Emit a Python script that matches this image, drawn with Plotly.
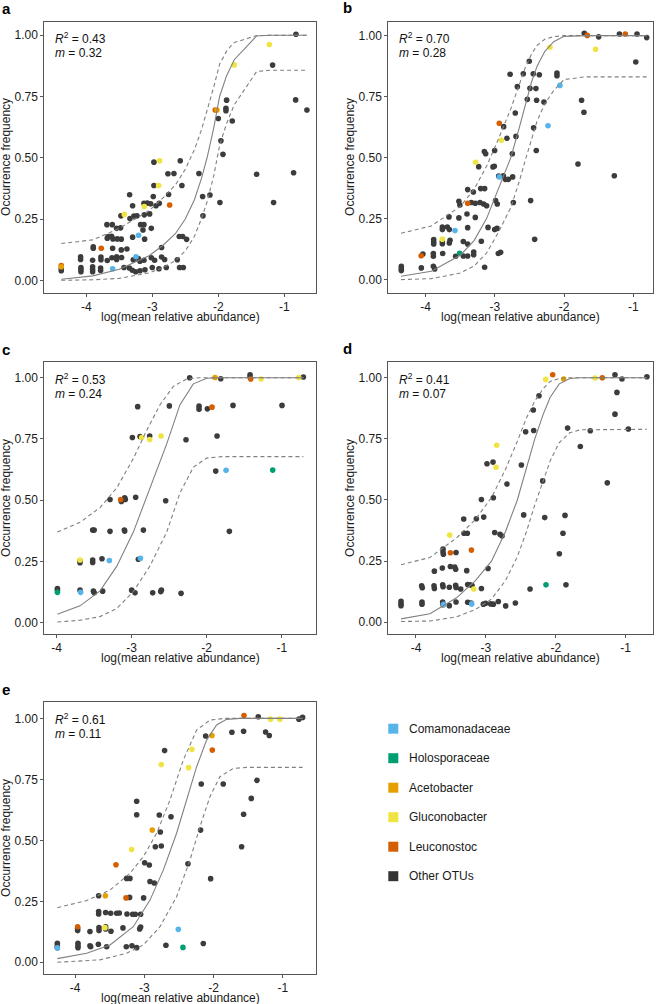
import plotly.graph_objects as go

FIG_W, FIG_H = 660, 1004
FONT = "Liberation Sans, Arial, Helvetica, sans-serif"

GROUP_NAMES = ["Comamonadaceae", "Holosporaceae", "Acetobacter", "Gluconobacter", "Leuconostoc", "Other OTUs"]
GROUP_COLORS = ["#56B4E9", "#009E73", "#E69F00", "#F0E442", "#D55E00", "#333333"]
POINT_OTHER_COLOR = "#3c3c3c"

X_TICKS = [-4, -3, -2, -1]
X_TICK_TEXT = ["-4", "-3", "-2", "-1"]
Y_TICKS = [0, 0.25, 0.5, 0.75, 1.0]
Y_TICK_TEXT = ["0.00", "0.25", "0.50", "0.75", "1.00"]

PANEL_KEYS = ["a", "b", "c", "d", "e"]
R2_VALUES = ["0.43", "0.70", "0.53", "0.41", "0.61"]
M_VALUES = ["0.32", "0.28", "0.24", "0.07", "0.11"]
X_TITLE = "log(mean relative abundance)"
Y_TITLE = "Occurrence frequency"

# ---------------- panel a ----------------
A_OTHER_X = [-2.975, -2.576, -2.763, -2.672, -2.293, -2.975, -2.551, -3.343, -2.985, -2.753,
             -3.126, -3.076, -3.025, -2.944, -2.894, -3.298, -3.475, -3.338, -3.278, -3.232,
             -3.121, -3.040, -3.687, -3.606, -3.540, -3.480, -3.177, -3.126, -3.141, -3.015,
             -3.667, -3.682, -3.616, -3.596, -3.530, -3.470, -3.298, -3.116, -2.859, -2.591,
             -2.540, -2.480, -3.894, -3.894, -3.601, -3.470, -3.384, -4.086, -4.086, -3.904,
             -3.778, -3.778, -3.682, -3.611, -3.540, -3.540, -3.465, -3.288, -3.212, -3.187,
             -3.126, -3.015, -2.965, -2.859, -2.813, -2.621, -4.379, -4.379, -4.081, -4.081,
             -4.081, -3.904, -3.904, -3.904, -3.783, -3.783, -3.429, -3.348, -3.303, -3.252,
             -3.187, -3.111, -3.000, -2.899, -2.788, -2.586, -2.530,
             -0.823, -1.177, -0.828, -0.657, -1.874, -1.884, -1.884, -2.000, -1.788, -1.960,
             -1.929, -2.126, -2.237, -1.975, -2.232, -1.419, -0.859, -1.162]
A_OTHER_Y = [0.482, 0.488, 0.435, 0.436, 0.436, 0.387, 0.387, 0.349, 0.342, 0.350,
             0.314, 0.315, 0.312, 0.304, 0.314, 0.304, 0.263, 0.252, 0.262, 0.263,
             0.267, 0.271, 0.227, 0.227, 0.212, 0.214, 0.227, 0.227, 0.205, 0.212,
             0.179, 0.172, 0.180, 0.169, 0.169, 0.168, 0.176, 0.168, 0.134, 0.179,
             0.179, 0.167, 0.137, 0.131, 0.131, 0.124, 0.128, 0.096, 0.085, 0.082,
             0.095, 0.084, 0.081, 0.092, 0.096, 0.085, 0.093, 0.084, 0.089, 0.078,
             0.082, 0.092, 0.082, 0.095, 0.085, 0.084, 0.047, 0.039, 0.052, 0.044,
             0.035, 0.055, 0.044, 0.035, 0.050, 0.040, 0.052, 0.050, 0.041, 0.035,
             0.039, 0.043, 0.052, 0.047, 0.052, 0.052, 0.052,
             1.004, 0.878, 0.736, 0.695, 0.735, 0.702, 0.692, 0.660, 0.650, 0.569,
             0.514, 0.348, 0.342, 0.317, 0.263, 0.433, 0.439, 0.317]
A_COMA_X = [-3.207, -3.247, -3.601]
A_COMA_Y = [0.184, 0.096, 0.047]
A_HOLO_X = []
A_HOLO_Y = []
A_ACETO_X = [-4.379, -2.020]
A_ACETO_Y = [0.055, 0.695]
A_GLUCO_X = [-2.889, -2.904, -3.121, -3.424, -1.227, -1.758]
A_GLUCO_Y = [0.488, 0.387, 0.301, 0.269, 0.962, 0.879]
A_LEUCO_X = [-2.737, -3.773, -4.379, -2.045]
A_LEUCO_Y = [0.307, 0.131, 0.060, 0.695]

A_FIT_X = [-4.379, -3.90, -3.50, -3.25, -3.05, -2.85, -2.65, -2.50, -2.36, -2.25, -2.17, -2.07, -1.98, -1.874, -1.788, -1.758, -1.419, -1.227, -0.657]
A_FIT_Y = [0.004, 0.018, 0.045, 0.075, 0.10, 0.14, 0.19, 0.25, 0.33, 0.42, 0.50, 0.62, 0.75, 0.835, 0.885, 0.90, 0.997, 1.0, 1.0]
A_HI_X = A_FIT_X
A_HI_Y = [0.150, 0.165, 0.212, 0.252, 0.284, 0.333, 0.389, 0.453, 0.534, 0.618, 0.689, 0.787, 0.882, 0.935, 0.963, 0.970, 0.999, 1.0, 1.0]
A_LO_X = A_FIT_X
A_LO_Y = [0.0, 0.002, 0.008, 0.019, 0.030, 0.05, 0.08, 0.12, 0.18, 0.255, 0.32, 0.425, 0.55, 0.64, 0.70, 0.716, 0.852, 0.857, 0.857]

# ---------------- panel b ----------------
B_OTHER_X = [-4.352, -4.352, -4.352, -4.063, -3.889, -3.870, -3.148, -4.040, -3.889, -3.889,
             -3.754, -3.567, -3.456, -3.393, -3.306, -3.306, -2.950, -2.917, -3.884, -3.884,
             -3.884, -3.759, -3.759, -3.648, -3.658, -3.456, -3.393, -3.196, -3.759, -3.759,
             -3.687, -3.658, -3.393, -3.099, -3.003, -2.969, -3.663, -3.520, -3.403, -3.283,
             -3.520, -3.506, -3.340, -3.283, -3.215, -3.162, -3.119, -3.393, -3.311, -3.205,
             -3.148, -2.990, -2.965, -2.733, -2.425, -2.945, -2.878, -2.849, -2.806, -2.743,
             -3.234, -3.027, -3.008, -3.152, -3.133, -3.003, -2.825, -2.748, -2.695, -2.873,
             -2.705, -2.440, -2.402, -2.531, -2.397, -2.291,
             -1.708, -1.500, -1.200, -0.946, -0.806, -0.964, -2.103, -2.103, -2.503, -2.780,
             -2.589, -2.445, -2.358, -2.493, -2.407, -2.675, -1.747, -1.713, -1.799, -1.274,
             -2.483]
B_OTHER_Y = [0.055, 0.045, 0.037, 0.048, 0.055, 0.044, 0.051, 0.105, 0.107, 0.096,
             0.107, 0.096, 0.097, 0.097, 0.113, 0.102, 0.107, 0.112, 0.164, 0.154,
             0.146, 0.156, 0.147, 0.161, 0.150, 0.156, 0.146, 0.157, 0.216, 0.205,
             0.216, 0.205, 0.213, 0.214, 0.205, 0.210, 0.257, 0.253, 0.269, 0.255,
             0.321, 0.306, 0.316, 0.313, 0.316, 0.310, 0.303, 0.369, 0.359, 0.373,
             0.373, 0.324, 0.310, 0.316, 0.165, 0.425, 0.426, 0.411, 0.411, 0.421,
             0.463, 0.462, 0.465, 0.525, 0.516, 0.529, 0.579, 0.516, 0.587, 0.627,
             0.683, 0.622, 0.529, 0.739, 0.735, 0.728,
             1.010, 0.995, 1.007, 1.007, 0.992, 0.892, 0.847, 0.836, 0.895, 0.842,
             0.844, 0.844, 0.840, 0.784, 0.783, 0.791, 0.735, 0.686, 0.474, 0.426,
             0.324]
B_COMA_X = [-3.576, -2.935, -2.232, -2.060]
B_COMA_Y = [0.201, 0.421, 0.631, 0.796]
B_HOLO_X = [-3.509]
B_HOLO_Y = [0.108]
B_ACETO_X = []
B_ACETO_Y = []
B_GLUCO_X = [-3.759, -3.278, -2.907, -2.204, -1.545]
B_GLUCO_Y = [0.166, 0.481, 0.571, 0.952, 0.944]
B_LEUCO_X = [-4.065, -3.393, -2.936, -1.665, -1.115]
B_LEUCO_Y = [0.098, 0.313, 0.641, 1.001, 1.007]

B_FIT_X = [-4.356, -3.918, -3.50, -3.30, -3.12, -2.95, -2.77, -2.65, -2.56, -2.47, -2.39, -2.28, -2.15, -2.00, -1.70, -0.806]
B_FIT_Y = [0.014, 0.034, 0.10, 0.16, 0.25, 0.37, 0.50, 0.62, 0.72, 0.81, 0.875, 0.935, 0.975, 0.997, 1.0, 1.0]
B_HI_X = B_FIT_X
B_HI_Y = [0.19, 0.22, 0.30, 0.37, 0.465, 0.575, 0.70, 0.80, 0.87, 0.925, 0.96, 0.985, 0.996, 1.0, 1.0, 1.0]
B_LO_X = B_FIT_X
B_LO_Y = [0.0, 0.004, 0.027, 0.056, 0.109, 0.193, 0.295, 0.40, 0.49, 0.58, 0.65, 0.72, 0.775, 0.82, 0.831, 0.831]

# ---------------- panel c ----------------
C_OTHER_X = [-3.990, -3.990, -3.689, -3.689, -3.689, -3.520, -3.520, -3.510, -3.500, -3.396,
             -3.387, -3.520, -3.500, -3.289, -3.098, -3.093, -3.289, -3.138, -3.093, -3.085,
             -2.947, -2.844, -2.991, -2.889, -2.760, -2.920, -2.498, -2.547, -3.000, -2.956,
             -2.911, -2.720, -2.613, -2.604, -2.342, -2.276, -2.227, -2.102, -2.102, -1.991,
             -1.880, -1.862, -1.813, -1.698, -1.649, -1.422, -1.422, -0.996, -0.711]
C_OTHER_Y = [0.140, 0.133, 0.253, 0.245, 0.133, 0.256, 0.246, 0.129, 0.122, 0.261,
             0.129, 0.378, 0.378, 0.373, 0.378, 0.374, 0.503, 0.495, 0.510, 0.503,
             0.512, 0.378, 0.756, 0.760, 0.762, 0.882, 0.885, 0.498, 0.133, 0.122,
             0.259, 0.122, 0.127, 0.133, 0.120, 0.747, 1.000, 0.884, 0.871, 0.873,
             0.619, 0.762, 0.996, 0.373, 0.887, 1.012, 1.003, 0.887, 1.003]
C_COMA_X = [-3.680, -3.298, -2.884, -1.742]
C_COMA_Y = [0.124, 0.254, 0.263, 0.622]
C_HOLO_X = [-3.990, -1.120]
C_HOLO_Y = [0.124, 0.623]
C_ACETO_X = [-1.889]
C_ACETO_Y = [1.001]
C_GLUCO_X = [-3.689, -2.867, -2.760, -2.609, -1.276, -0.773]
C_GLUCO_Y = [0.256, 0.756, 0.748, 0.762, 0.995, 1.001]
C_LEUCO_X = [-3.147, -1.929, -1.413]
C_LEUCO_Y = [0.503, 0.880, 0.995]

C_FIT_X = [-3.991, -3.689, -3.422, -3.200, -2.978, -2.756, -2.533, -2.356, -2.178, -2.000, -1.800, -0.711]
C_FIT_Y = [0.035, 0.069, 0.130, 0.230, 0.370, 0.550, 0.730, 0.890, 0.975, 0.998, 1.000, 1.000]
C_HI_X = [-3.991, -3.689, -3.422, -3.200, -2.978, -2.800, -2.622, -2.444, -2.267, -2.089, -0.711]
C_HI_Y = [0.370, 0.410, 0.470, 0.550, 0.670, 0.785, 0.890, 0.965, 0.995, 1.000, 1.000]
C_LO_X = C_FIT_X
C_LO_Y = [0.003, 0.010, 0.025, 0.058, 0.127, 0.232, 0.370, 0.530, 0.635, 0.672, 0.678, 0.678]

# ---------------- panel d ----------------
D_OTHER_X = [-4.214, -4.214, -4.214, -3.914, -3.914, -3.618, -3.613, -3.523, -3.427, -3.260,
             -3.212, -3.036, -3.003, -2.931, -2.893, -2.822, -2.717, -2.578, -2.368, -1.854,
             -3.919, -3.910, -3.742, -3.737, -3.618, -3.613, -3.523, -3.432, -3.427, -3.360,
             -3.260, -3.227, -3.198, -3.064, -3.737, -3.623, -3.508, -3.446, -3.432, -3.274,
             -2.969, -3.613, -3.613, -3.608, -3.427, -3.313, -3.265, -3.317, -3.136, -3.031,
             -3.064, -2.893, -2.874, -2.798, -2.769, -2.698, -2.984, -2.898, -2.492, -2.459,
             -2.431, -2.316, -2.187, -2.158, -1.897, -1.868, -1.949, -1.831,
             -1.153, -1.053, -0.696, -1.125, -1.153, -0.962, -1.506, -1.649, -1.263, -2.240,
             -2.321]
D_OTHER_Y = [0.086, 0.076, 0.068, 0.083, 0.074, 0.083, 0.072, 0.068, 0.083, 0.082,
             0.079, 0.074, 0.078, 0.075, 0.074, 0.085, 0.067, 0.079, 0.136, 0.153,
             0.149, 0.141, 0.149, 0.138, 0.153, 0.145, 0.143, 0.151, 0.142, 0.136,
             0.154, 0.153, 0.150, 0.138, 0.209, 0.222, 0.228, 0.226, 0.217, 0.211,
             0.220, 0.299, 0.287, 0.278, 0.285, 0.364, 0.364, 0.422, 0.423, 0.430,
             0.502, 0.509, 0.367, 0.360, 0.353, 0.565, 0.648, 0.655, 0.643, 0.439,
             0.779, 0.784, 0.578, 0.428, 0.364, 0.437, 0.280, 0.794,
             1.012, 0.995, 1.004, 0.940, 0.851, 0.790, 0.783, 0.719, 0.570, 0.926,
             0.868]
D_COMA_X = [-3.605, -3.203]
D_COMA_Y = [0.073, 0.075]
D_HOLO_X = [-2.140]
D_HOLO_Y = [0.153]
D_ACETO_X = [-1.887]
D_ACETO_Y = [0.995]
D_GLUCO_X = [-3.174, -3.518, -2.855, -2.845, -2.144, -1.439]
D_GLUCO_Y = [0.136, 0.357, 0.634, 0.724, 0.993, 0.999]
D_LEUCO_X = [-3.508, -3.207, -2.044, -1.334]
D_LEUCO_Y = [0.284, 0.295, 1.012, 1.000]

D_FIT_X = [-4.214, -3.80, -3.42, -3.15, -2.92, -2.72, -2.55, -2.42, -2.30, -2.18, -2.08, -1.95, -1.80, -1.65, -0.696]
D_FIT_Y = [0.014, 0.035, 0.10, 0.17, 0.25, 0.37, 0.50, 0.63, 0.75, 0.85, 0.92, 0.975, 0.997, 1.0, 1.0]
D_HI_X = D_FIT_X
D_HI_Y = [0.235, 0.265, 0.345, 0.42, 0.51, 0.625, 0.74, 0.835, 0.905, 0.955, 0.985, 0.997, 1.0, 1.0, 1.0]
D_LO_X = D_FIT_X
D_LO_Y = [0.003, 0.005, 0.022, 0.052, 0.095, 0.17, 0.268, 0.37, 0.48, 0.58, 0.66, 0.735, 0.775, 0.787, 0.789]

# ---------------- panel e ----------------
E_OTHER_X = [-4.255, -4.255, -4.255, -3.957, -3.957, -3.957, -3.784, -3.774, -3.663, -3.543,
             -3.260, -3.178, -3.110, -2.688, -2.149, -3.962, -3.962, -3.784, -3.654, -3.654,
             -3.558, -3.558, -3.481, -3.308, -3.067, -3.053, -3.659, -3.659, -3.558, -3.486,
             -3.399, -3.361, -3.250, -3.168, -3.130, -3.053, -3.659, -3.212, -3.010, -3.255,
             -3.207, -2.918, -2.856, -2.995, -2.928, -2.841, -2.755, -2.370, -2.043, -2.769,
             -3.110, -3.110, -2.784, -2.615, -2.188, -2.178, -1.861,
             -1.356, -0.769, -0.716, -2.115, -1.736, -1.567, -1.250, -1.197, -2.707, -1.375,
             -1.457, -1.567, -1.596]
E_OTHER_Y = [0.078, 0.068, 0.060, 0.078, 0.068, 0.060, 0.068, 0.064, 0.074, 0.064,
             0.064, 0.068, 0.060, 0.070, 0.077, 0.139, 0.130, 0.126, 0.142, 0.130,
             0.146, 0.137, 0.127, 0.141, 0.137, 0.145, 0.208, 0.198, 0.204, 0.201,
             0.201, 0.202, 0.198, 0.197, 0.197, 0.197, 0.273, 0.266, 0.264, 0.344,
             0.344, 0.331, 0.325, 0.408, 0.399, 0.474, 0.477, 0.404, 0.343, 0.534,
             0.660, 0.605, 0.604, 0.597, 0.542, 0.731, 0.731,
             1.007, 0.997, 1.004, 0.928, 0.943, 0.947, 0.944, 0.930, 0.868, 0.746,
             0.672, 0.607, 0.474]
E_COMA_X = [-4.255, -2.510]
E_COMA_Y = [0.059, 0.135]
E_HOLO_X = [-2.442]
E_HOLO_Y = [0.061]
E_ACETO_X = [-3.562, -2.885, -2.024]
E_ACETO_Y = [0.273, 0.542, 0.930]
E_GLUCO_X = [-3.568, -3.183, -2.755, -2.361, -2.313, -1.178, -1.043]
E_GLUCO_Y = [0.142, 0.462, 0.811, 0.798, 0.873, 0.997, 0.997]
E_LEUCO_X = [-3.962, -3.264, -3.409, -2.019, -1.562]
E_LEUCO_Y = [0.146, 0.264, 0.400, 0.870, 1.012]

E_FIT_X = [-4.255, -3.832, -3.495, -3.159, -2.918, -2.726, -2.534, -2.389, -2.245, -2.101, -1.957, -1.813, -1.62, -0.716]
E_FIT_Y = [0.015, 0.037, 0.071, 0.146, 0.255, 0.378, 0.529, 0.665, 0.802, 0.911, 0.973, 0.996, 1.0, 1.0]
E_HI_X = [-4.255, -3.832, -3.495, -3.207, -3.014, -2.822, -2.630, -2.438, -2.245, -2.053, -1.85, -0.716]
E_HI_Y = [0.224, 0.253, 0.296, 0.365, 0.433, 0.529, 0.665, 0.829, 0.952, 0.993, 1.0, 1.0]
E_LO_X = [-4.255, -3.639, -3.255, -3.014, -2.774, -2.534, -2.341, -2.197, -2.053, -1.909, -1.716, -1.524, -0.716]
E_LO_Y = [0.0, 0.01, 0.037, 0.071, 0.146, 0.269, 0.419, 0.556, 0.679, 0.761, 0.795, 0.799, 0.799]

# ---------------- assemble ----------------
POINTS = {
    "a": [(A_OTHER_X, A_OTHER_Y, 5), (A_LEUCO_X, A_LEUCO_Y, 4), (A_COMA_X, A_COMA_Y, 0), (A_HOLO_X, A_HOLO_Y, 1), (A_GLUCO_X, A_GLUCO_Y, 3), (A_ACETO_X, A_ACETO_Y, 2)],
    "b": [(B_OTHER_X, B_OTHER_Y, 5), (B_LEUCO_X, B_LEUCO_Y, 4), (B_COMA_X, B_COMA_Y, 0), (B_HOLO_X, B_HOLO_Y, 1), (B_GLUCO_X, B_GLUCO_Y, 3), (B_ACETO_X, B_ACETO_Y, 2)],
    "c": [(C_OTHER_X, C_OTHER_Y, 5), (C_LEUCO_X, C_LEUCO_Y, 4), (C_COMA_X, C_COMA_Y, 0), (C_HOLO_X, C_HOLO_Y, 1), (C_GLUCO_X, C_GLUCO_Y, 3), (C_ACETO_X, C_ACETO_Y, 2)],
    "d": [(D_OTHER_X, D_OTHER_Y, 5), (D_LEUCO_X, D_LEUCO_Y, 4), (D_COMA_X, D_COMA_Y, 0), (D_HOLO_X, D_HOLO_Y, 1), (D_GLUCO_X, D_GLUCO_Y, 3), (D_ACETO_X, D_ACETO_Y, 2)],
    "e": [(E_OTHER_X, E_OTHER_Y, 5), (E_LEUCO_X, E_LEUCO_Y, 4), (E_COMA_X, E_COMA_Y, 0), (E_HOLO_X, E_HOLO_Y, 1), (E_GLUCO_X, E_GLUCO_Y, 3), (E_ACETO_X, E_ACETO_Y, 2)],
}
CURVES = {
    "a": ((A_FIT_X, A_FIT_Y), (A_HI_X, A_HI_Y), (A_LO_X, A_LO_Y)),
    "b": ((B_FIT_X, B_FIT_Y), (B_HI_X, B_HI_Y), (B_LO_X, B_LO_Y)),
    "c": ((C_FIT_X, C_FIT_Y), (C_HI_X, C_HI_Y), (C_LO_X, C_LO_Y)),
    "d": ((D_FIT_X, D_FIT_Y), (D_HI_X, D_HI_Y), (D_LO_X, D_LO_Y)),
    "e": ((E_FIT_X, E_FIT_Y), (E_HI_X, E_HI_Y), (E_LO_X, E_LO_Y)),
}

# layout geometry (pixels: left, top, right, bottom)
BOX = {
    "a": (44.3, 21.5, 315.7, 292.8),
    "b": (388.3, 21.5, 653.0, 292.8),
    "c": (44.3, 362.3, 315.7, 634.0),
    "d": (388.3, 362.3, 653.0, 634.0),
    "e": (44.3, 702.3, 315.7, 974.0),
}
XRANGE = {"a": (-4.636, -0.524), "b": (-4.540, -0.715), "c": (-4.165, -0.547),
          "d": (-4.396, -0.609), "e": (-4.443, -0.527)}
YRANGE = {"a": (-0.051, 1.056), "b": (-0.054, 1.058), "c": (-0.046, 1.063),
          "d": (-0.048, 1.063), "e": (-0.048, 1.066)}
LETTER_POS = {"a": (6.5, 9), "b": (347, 8), "c": (6, 349), "d": (347, 348), "e": (6, 689)}


def fx(px):
    return px / FIG_W


def fy(py):
    return 1 - py / FIG_H


BORDER = "#555555"
LINE_COLOR = "#808080"

fig = go.Figure()
layout = dict(
    width=FIG_W, height=FIG_H, margin=dict(l=0, r=0, t=0, b=0),
    paper_bgcolor="white", plot_bgcolor="white", showlegend=False,
    font=dict(family=FONT, size=12, color="#1a1a1a"),
)
annotations = []
shapes = []

for i, key in enumerate(PANEL_KEYS):
    n = i + 1
    xa = "x" if n == 1 else f"x{n}"
    ya = "y" if n == 1 else f"y{n}"
    l, t, r, b = BOX[key]
    common = dict(showgrid=False, zeroline=False, showline=True, mirror=True,
                  linecolor=BORDER, linewidth=1.1, ticks="outside", ticklen=3,
                  tickwidth=1, tickcolor=BORDER,
                  tickfont=dict(family=FONT, size=12, color="#1a1a1a"), fixedrange=True)
    layout["xaxis" if n == 1 else f"xaxis{n}"] = dict(
        domain=[fx(l), fx(r)], range=list(XRANGE[key]), anchor=ya,
        tickvals=X_TICKS, ticktext=X_TICK_TEXT, **common)
    layout["yaxis" if n == 1 else f"yaxis{n}"] = dict(
        domain=[fy(b), fy(t)], range=list(YRANGE[key]), anchor=xa,
        tickvals=Y_TICKS, ticktext=Y_TICK_TEXT, **common)

    for xs, ys, gi in POINTS[key]:
        if not xs:
            continue
        color = POINT_OTHER_COLOR if gi == 5 else GROUP_COLORS[gi]
        fig.add_trace(go.Scatter(x=xs, y=ys, mode="markers", xaxis=xa, yaxis=ya,
                                 name=GROUP_NAMES[gi],
                                 marker=dict(size=5.6, color=color, line=dict(width=0))))
    (fit_x, fit_y), (hi_x, hi_y), (lo_x, lo_y) = CURVES[key]
    fig.add_trace(go.Scatter(x=fit_x, y=fit_y, mode="lines", xaxis=xa, yaxis=ya,
                             line=dict(color=LINE_COLOR, width=1.1)))
    for cx, cy in ((hi_x, hi_y), (lo_x, lo_y)):
        fig.add_trace(go.Scatter(x=cx, y=cy, mode="lines", xaxis=xa, yaxis=ya,
                                 line=dict(color=LINE_COLOR, width=1.1, dash="4px,3px")))

    # R^2 and m labels
    annotations.append(dict(x=fx(l + 9), y=fy(t + 16.5), xref="paper", yref="paper",
                            xanchor="left", yanchor="middle", showarrow=False,
                            text=f"<i>R</i><sup>2</sup> = {R2_VALUES[i]}",
                            font=dict(family=FONT, size=12, color="#111111")))
    annotations.append(dict(x=fx(l + 9), y=fy(t + 31.7), xref="paper", yref="paper",
                            xanchor="left", yanchor="middle", showarrow=False,
                            text=f"<i>m</i> = {M_VALUES[i]}",
                            font=dict(family=FONT, size=12, color="#111111")))
    # axis titles
    annotations.append(dict(x=fx((l + r) / 2), y=fy(b + 24), xref="paper", yref="paper",
                            xanchor="center", yanchor="middle", showarrow=False,
                            text=X_TITLE, font=dict(family=FONT, size=12, color="#1a1a1a")))
    annotations.append(dict(x=fx(l - 38.5), y=fy((t + b) / 2), xref="paper", yref="paper",
                            xanchor="center", yanchor="middle", showarrow=False, textangle=-90,
                            text=Y_TITLE, font=dict(family=FONT, size=12, color="#1a1a1a")))
    # panel letter
    lx, ly = LETTER_POS[key]
    annotations.append(dict(x=fx(lx), y=fy(ly), xref="paper", yref="paper",
                            xanchor="center", yanchor="middle", showarrow=False,
                            text=f"<b>{key}</b>", font=dict(family=FONT, size=15, color="black")))

# legend (manual, bottom right)
LEG_X0 = 388.3
LEG_Y0 = 728.7
LEG_STEP = 29.5
for gi, name in enumerate(GROUP_NAMES):
    cy = LEG_Y0 + gi * LEG_STEP
    shapes.append(dict(type="rect", xref="paper", yref="paper",
                       x0=fx(LEG_X0), x1=fx(LEG_X0 + 10), y0=fy(cy + 5), y1=fy(cy - 5),
                       fillcolor=GROUP_COLORS[gi], line=dict(width=0)))
    annotations.append(dict(x=fx(LEG_X0 + 18.5), y=fy(cy), xref="paper", yref="paper",
                            xanchor="left", yanchor="middle", showarrow=False,
                            text=name, font=dict(family=FONT, size=12, color="#1a1a1a")))

layout["annotations"] = annotations
layout["shapes"] = shapes
fig.update_layout(**layout)
fig.write_html("out.html", config={"displayModeBar": False},
               post_script="document.body.style.margin='0';document.body.style.overflow='hidden';")
